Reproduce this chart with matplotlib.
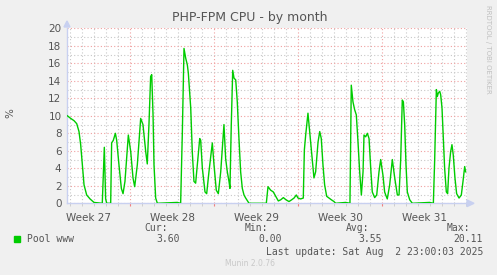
import numpy as np
import matplotlib
matplotlib.use("Agg")
from matplotlib import pyplot as plt
from matplotlib.ticker import MultipleLocator, FixedLocator, NullFormatter

# time in days since start of graph, cpu in %
days = [0.03, 0.31, 0.58, 0.81, 1.0, 1.14, 1.28, 1.42, 1.64, 1.92, 2.25, 2.94,
        3.11, 3.22, 3.31, 3.64, 3.72, 3.86, 4.03, 4.14, 4.33, 4.53, 4.67, 4.83,
        5.11, 5.31, 5.5, 5.64, 5.86, 6.14, 6.33, 6.56, 6.69, 6.83, 6.97, 7.06,
        7.17, 7.25, 7.39, 7.53, 9.19, 9.47, 9.61, 9.75, 9.89, 10.03, 10.11, 10.31,
        10.44, 10.58, 10.72, 10.86, 11.06, 11.14, 11.28, 11.5, 11.64, 11.83, 12.11,
        12.25, 12.44, 12.61, 12.81, 13.08, 13.22, 13.36, 13.5, 13.58, 13.69, 13.81,
        13.92, 14.06, 14.19, 14.33, 14.47, 14.61, 14.75, 14.89, 15.17, 16.61,
        16.75, 16.97, 17.19, 17.39, 17.61, 17.81, 18.03, 18.25, 18.5, 18.72, 18.92,
        19.11, 19.25, 19.47, 19.69, 19.78, 19.89, 20.08, 20.25, 20.44, 20.58, 20.72,
        20.81, 20.92, 21.06, 21.19, 21.33, 21.47, 21.64, 21.83, 22.03, 22.25, 22.39,
        23.22, 23.58, 23.69, 23.83, 23.97, 24.11, 24.25, 24.39, 24.53, 24.67, 24.75,
        24.89, 25.03, 25.17, 25.31, 25.44, 25.64, 25.81, 26.0, 26.14, 26.33, 26.47,
        26.56, 26.69, 26.89, 27.11, 27.31, 27.53, 27.67, 27.81, 27.94, 28.03, 28.14,
        28.25, 28.36, 28.56, 28.78, 30.22, 30.53, 30.64, 30.78, 30.86, 30.94, 31.06,
        31.14, 31.25, 31.36, 31.47, 31.61, 31.72, 31.83, 31.97, 32.08, 32.19, 32.33,
        32.47, 32.67, 32.86, 33.0, 33.14, 33.22]
cpu = [10.0, 9.7, 9.45, 9.1, 8.2, 6.7, 4.4, 2.1, 0.95, 0.5, 0.1, 0.0,
       6.4, 0.5, 0.0, 0.0, 6.9, 7.2, 8.0, 7.2, 4.4, 1.7, 1.1, 2.5,
       7.8, 5.9, 2.9, 1.9, 4.4, 9.7, 9.0, 5.9, 4.5, 9.0, 14.5, 14.7,
       10.1, 4.4, 0.6, 0.0, 0.1, 0.0, 8.0, 17.7, 16.6, 15.8, 14.9, 10.9,
       5.9, 2.5, 2.3, 4.4, 7.4, 7.2, 4.0, 1.3, 1.1, 3.6, 6.9,
       4.4, 1.5, 1.1, 3.6, 9.0, 5.1, 3.6, 2.5, 1.7, 9.0, 15.2,
       14.3, 14.1, 11.6, 7.4, 3.6, 1.7, 0.95, 0.6, 0.0, 0.0,
       1.9, 1.5, 1.3, 0.8, 0.27, 0.4, 0.65, 0.4, 0.2, 0.4, 0.6,
       0.95, 0.6, 0.5, 0.6, 6.1, 7.8, 10.3, 7.8, 5.1, 2.9, 3.6,
       5.1, 7.0, 8.2, 7.4, 4.4, 2.1, 0.8, 0.6, 0.4, 0.2, 0.0,
       0.1, 0.0, 13.5, 11.6, 10.7, 10.1, 7.0, 3.6, 0.95, 3.6, 7.8,
       7.6, 8.0, 7.4, 4.0, 1.3, 0.65, 0.95, 3.6, 5.0, 3.2, 1.3,
       0.95, 0.5, 2.1, 5.0, 2.9, 0.95, 0.95, 5.1, 11.8, 11.6, 9.0,
       4.4, 1.3, 0.4, 0.0, 0.1, 0.0, 5.0, 13.0, 12.2, 12.6, 12.8,
       12.4, 10.9, 7.4, 4.0, 1.3, 1.1, 4.0, 5.9, 6.7, 5.5, 2.9,
       1.1, 0.6, 0.95, 2.5, 4.2, 3.6]

week_start = [5.27, 12.27, 19.27, 26.27]
week_names = ["Week 27", "Week 28", "Week 29", "Week 30", "Week 31"]
legend_head = ["Cur:", "Min:", "Avg:", "Max:"]
legend_vals = ["3.60", "0.00", "3.55", "20.11"]

W, H = 497, 275
bg = "#f0f0f0"
fig = plt.figure(figsize=(W / 100, H / 100), dpi=100, facecolor=bg)
ax = fig.add_axes([67 / W, (H - 203.3) / H, 400 / W, 175 / H])
ax.set_facecolor("white")
ax.set_xlim(0, 400 / 12)
ax.set_ylim(0, 20)

dots = (0, (1, 2))
ax.yaxis.set_major_locator(MultipleLocator(2))
ax.yaxis.set_minor_locator(MultipleLocator(1))
ax.xaxis.set_major_locator(FixedLocator(week_start))
minor_days = np.arange(week_start[0] - 5, 400 / 12, 1.0)
ax.xaxis.set_minor_locator(FixedLocator(minor_days))
ax.xaxis.set_major_formatter(NullFormatter())
ax.grid(which="major", color="#f0a0a0", linestyle=dots, linewidth=0.8)
ax.grid(which="minor", color="#c8c8c8", linestyle=dots, linewidth=0.8)
ax.set_axisbelow(True)

ax.tick_params(axis="y", which="both", length=0, labelsize=7.5,
               labelcolor="#555555", pad=4)
ax.tick_params(axis="x", which="major", length=2, color="#f08080", pad=2)
ax.tick_params(axis="x", which="minor", length=2, color="#c8c8c8")

for s in ["top", "right"]:
    ax.spines[s].set_visible(False)
for s in ["left", "bottom"]:
    ax.spines[s].set_color("#c8d0f0")
    ax.spines[s].set_linewidth(1)

ax.plot(days, cpu, color="#00cc00", linewidth=1.0, zorder=3)

for i, name in enumerate(week_names):
    xw = week_start[0] - 3.5 + 7 * i
    ax.text(xw, -0.055, name, transform=ax.get_xaxis_transform(), ha="center",
            va="top", fontsize=7.5, color="#555555")

# arrows at axis ends
fig.patches.append(plt.Polygon([[64 / W, (H - 27) / H], [70 / W, (H - 27) / H],
                                [67 / W, (H - 21) / H]], closed=True,
                               transform=fig.transFigure, color="#c8d0f0"))
fig.patches.append(plt.Polygon([[467 / W, (H - 200) / H], [467 / W, (H - 206.6) / H],
                                [474 / W, (H - 203.3) / H]], closed=True,
                               transform=fig.transFigure, color="#c8d0f0"))

fig.text(250 / W, 1 - 18 / H, "PHP-FPM CPU - by month", ha="center", va="center",
         fontsize=9, color="#555555")
fig.text(10 / W, 1 - 113 / H, "%", rotation=90, ha="center", va="center",
         fontsize=7.5, color="#555555")
fig.text(488 / W, 1 - 5 / H, "RRDTOOL / TOBI OETIKER", rotation=270, ha="center",
         va="top", fontsize=5, color="#c0c0c0")

mono = "DejaVu Sans Mono"
head_x = [168, 268, 369, 470]
val_x = [180, 282, 382, 483]
for hx, vx, h, v in zip(head_x, val_x, legend_head, legend_vals):
    fig.text(hx / W, 1 - 228 / H, h, ha="right", va="center", fontsize=7,
             family=mono, color="#555555")
    fig.text(vx / W, 1 - 239 / H, v, ha="right", va="center", fontsize=7,
             family=mono, color="#555555")
fig.patches.append(plt.Rectangle((14 / W, 1 - 242 / H), 6 / W, 6 / H,
                                 transform=fig.transFigure, color="#00cc00"))
fig.text(27 / W, 1 - 239 / H, "Pool www", ha="left", va="center", fontsize=7,
         family=mono, color="#555555")
fig.text(483 / W, 1 - 252 / H, "Last update: Sat Aug  2 23:00:03 2025", ha="right",
         va="center", fontsize=7, family=mono, color="#555555")
fig.text(250 / W, 1 - 264 / H, "Munin 2.0.76", ha="center", va="center",
         fontsize=5.5, color="#c8c8c8")

fig.savefig("out.png", dpi=100, facecolor=bg)
